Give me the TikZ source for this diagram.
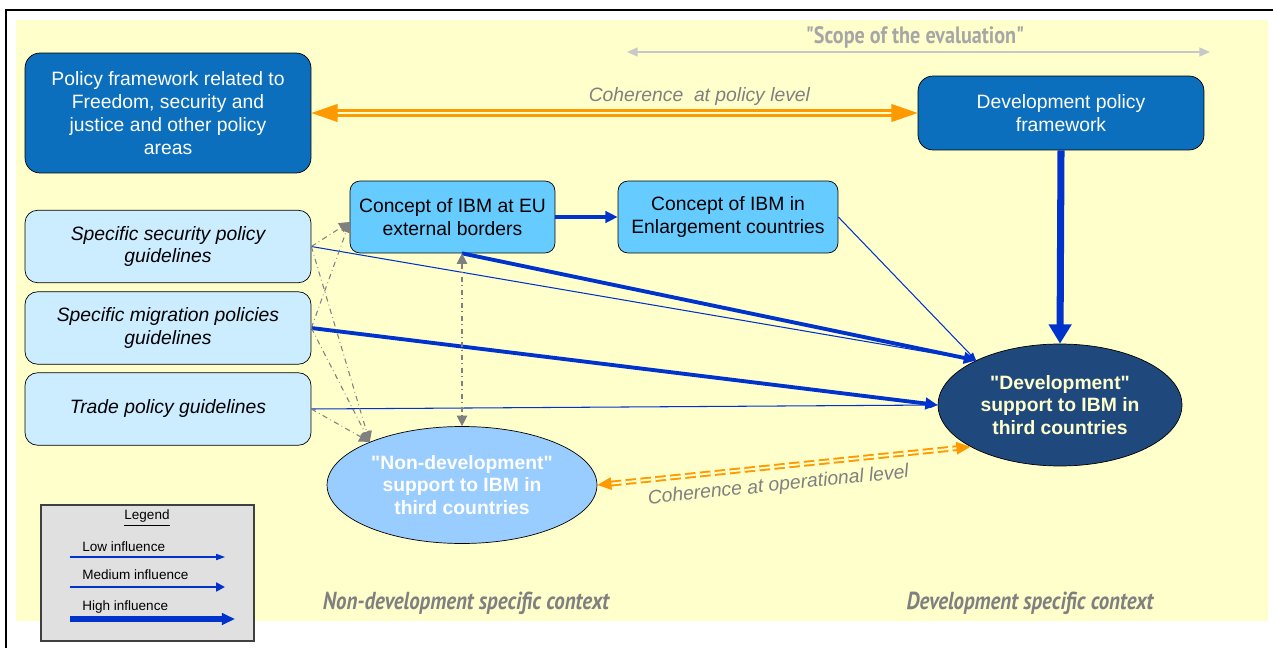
\documentclass[tikz,border=0pt]{standalone}
\usepackage{fontspec}
\setmainfont{Liberation Sans}[Ligatures=TeXOff]
\newfontfamily\condfont[FakeStretch=0.85]{PT Sans}
\usetikzlibrary{arrows.meta, shapes.geometric}
\definecolor{pale-yellow}{HTML}{FFFFCC}
\definecolor{frame-blue}{HTML}{0B6FBE}
\definecolor{guide-blue}{HTML}{CCECFF}
\definecolor{sky-blue}{HTML}{66CCFF}
\definecolor{cloud-blue}{HTML}{99CCFF}
\definecolor{navy-blue}{HTML}{1F497D}
\definecolor{influence-blue}{HTML}{0033CC}
\definecolor{amber}{HTML}{FF9900}
\definecolor{label-grey}{HTML}{808080}
\definecolor{scope-grey}{HTML}{A6A6A6}
\definecolor{scope-line}{HTML}{C8C8C8}
\definecolor{legend-grey}{HTML}{E0E0E0}

\tikzset{
  policybox/.style={draw=black, rounded corners=0.3cm, fill=frame-blue, text=white, align=center,
    font=\fontsize{11}{13}\selectfont, minimum width=5.72cm},
  guidebox/.style={draw=black, rounded corners=0.25cm, fill=guide-blue, align=center,
    font=\fontsize{11}{13}\selectfont\itshape, minimum width=5.72cm, minimum height=1.45cm},
  ibmbox/.style={draw=black, rounded corners=0.2cm, fill=sky-blue, align=center,
    font=\fontsize{11}{13}\selectfont, minimum height=1.44cm},
  support/.style={ellipse, draw=black, inner sep=0pt, align=center,
    font=\fontsize{11}{13}\selectfont\bfseries},
  lowinf/.style={influence-blue, line width=0.6pt, -{Triangle[length=4.5pt,width=3.5pt]}},
  medinf/.style={influence-blue, line width=2.2pt, -{Triangle[length=7pt,width=6.5pt]}},
  highinf/.style={influence-blue, line width=4pt, -{Triangle[length=11pt,width=12.5pt]}},
  linked/.style={label-grey, dash dot, line width=0.6pt, -{Triangle[length=6pt,width=6pt]}},
  coherence/.style={amber, line width=1.4pt, double=pale-yellow, double distance=1.3pt,
    {Triangle[length=15pt,width=10pt]}-{Triangle[length=15pt,width=10pt]}},
  opcoherence/.style={amber, line width=1.1pt, double=pale-yellow, double distance=1.1pt,
    dash pattern=on 6pt off 2.5pt,
    {Triangle[length=8pt,width=7pt]}-{Triangle[length=8pt,width=7pt]}},
  coherencelabel/.style={text=label-grey, font=\fontsize{11}{13}\selectfont\itshape},
  contextlabel/.style={text=label-grey, font=\condfont\fontsize{14}{16}\selectfont\bfseries\itshape},
  legendtext/.style={anchor=west, inner sep=0pt, font=\fontsize{7.7}{9}\selectfont}
}

\begin{document}
\begin{tikzpicture}[x=0.02cm, y=-0.02cm]
  \useasboundingbox (0,0) rectangle (1273,648);
  % page frame and yellow context area
  \fill[pale-yellow] (16,20) rectangle (1268,621);
  \draw[line width=1.5pt] (6,648) -- (6,10) -- (1273,10);

  % scope of the evaluation
  \coordinate (scopeL) at (627,52);
  \coordinate (scopeR) at (1210,52);
  \draw[scope-line, line width=1pt, {Triangle[length=6pt,width=5pt]}-{Triangle[length=6pt,width=5pt]}] (scopeL) -- (scopeR);
  \node[text=scope-grey, font=\condfont\fontsize{13.5}{15}\selectfont\bfseries] (scope) at (915,37) {"Scope of the evaluation"};

  % policy frameworks
  \node[policybox, minimum height=2.4cm] (fsj) at (168,113) {Policy framework related to\\Freedom, security and\\justice and other policy\\areas};
  \node[policybox, minimum height=1.48cm] (devpol) at (1061,113) {Development policy\\framework};

  % guidelines
  \node[guidebox] (security) at (168,246.5) {Specific security policy\\guidelines};
  \node[guidebox] (migration) at (168,328) {Specific migration policies\\guidelines};
  \node[guidebox] (trade) at (168,409) {Trade policy guidelines};

  % IBM concepts
  \node[ibmbox, minimum width=4.1cm] (ibmeu) at (452.5,217) {Concept of IBM at EU\\external borders};
  \node[ibmbox, minimum width=4.4cm] (ibmenl) at (728,217) {Concept of IBM in\\Enlargement countries};

  % support in third countries
  \node[support, fill=cloud-blue, text=white, minimum width=5.4cm, minimum height=2.34cm] (nondev) at (462,485) {"Non-development"\\support to IBM in\\third countries};
  \node[support, fill=navy-blue, text=pale-yellow, minimum width=4.88cm, minimum height=2.44cm] (dev) at (1060,405) {"Development"\\support to IBM in\\third countries};

  % coherence links
  \draw[coherence] (fsj.east) -- node[coherencelabel, pos=0.64, above=0pt] {Coherence\ \ at policy level} (devpol.west);
  \draw[opcoherence] (nondev.east) -- node[coherencelabel, pos=0.48, below=2pt, sloped] {Coherence at operational level} (dev.205);

  % influences
  \coordinate (ibmfoot) at (nondev.north |- ibmeu.south);
  \draw[highinf] (devpol.south) -- (dev.north);
  \draw[medinf] (ibmeu.east) -- (ibmenl.west);
  \draw[medinf] (ibmfoot) -- (dev.152);
  \draw[lowinf] (ibmenl.east) -- (dev.152);
  \draw[lowinf] (security.east) -- (dev.152);
  \draw[medinf] (migration.east) -- (dev.west);
  \draw[lowinf] (trade.east) -- (dev.west);

  % grey dash-dot links
  \draw[linked] (security.east) -- ([yshift=-0.1cm]ibmeu.west);
  \draw[linked] (migration.east) -- ([yshift=-0.1cm]ibmeu.west);
  \draw[linked] (security.east) -- (nondev.155);
  \draw[linked] (migration.east) -- (nondev.155);
  \draw[linked] (trade.east) -- (nondev.155);
  \draw[linked, {Triangle[length=6pt,width=6pt]}-{Triangle[length=6pt,width=6pt]}] (ibmfoot) -- (nondev.north);

  % context captions
  \node[contextlabel] (nondevctx) at (466,603) {Non-development specific context};
  \node[contextlabel] (devctx) at (1030,603) {Development specific context};

  % legend
  \node[draw=black!75, fill=legend-grey, line width=0.8pt, minimum width=4.26cm, minimum height=2.72cm] (legend) at (147.5,573) {};
  \node[font=\fontsize{7.7}{9}\selectfont] (legendtitle) at (147,518) {\underline{Legend}};
  \node[legendtext] (lowtxt) at (82,547) {Low influence};
  \node[legendtext] (medtxt) at (82,575) {Medium influence};
  \node[legendtext] (hightxt) at (82,607) {High influence};
  \draw[lowinf, -{Triangle[length=5pt,width=3.5pt]}] (70,557) -- (225,557);
  \draw[medinf, line width=1.7pt, -{Triangle[length=5pt,width=5pt]}] (70,587) -- (225,587);
  \draw[highinf, line width=3.4pt, -{Triangle[length=7.5pt,width=6.5pt]}] (70,619) -- (235,619);
\end{tikzpicture}
\end{document}
